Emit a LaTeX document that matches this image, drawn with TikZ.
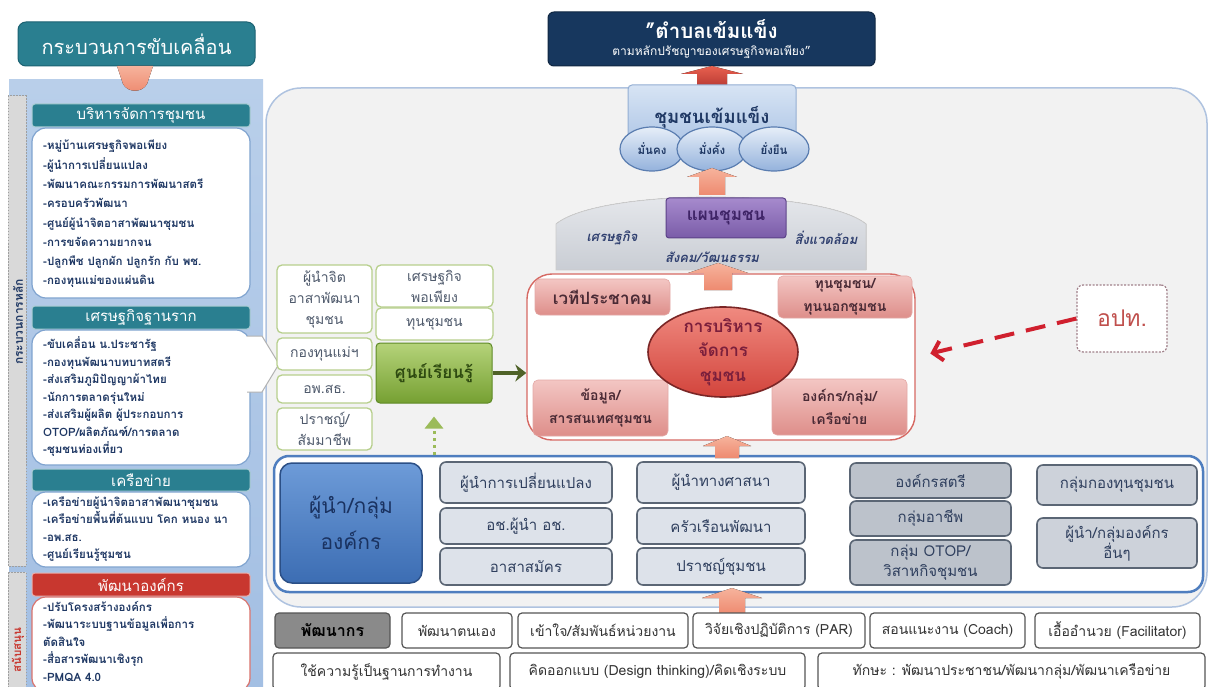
\documentclass[tikz,border=0pt]{standalone}
\usepackage{fontspec}
\setmainfont{Loma}[Script=Thai]
\usetikzlibrary{arrows.meta,shapes.geometric,calc}
\definecolor{tealc}{HTML}{2A7F90}
\definecolor{tealdk}{HTML}{1C6272}
\definecolor{panelt}{HTML}{B9CFEA}
\definecolor{panelb}{HTML}{A3BFE3}
\definecolor{lstb}{HTML}{7FA3CF}
\definecolor{redh}{HTML}{C8372F}
\definecolor{txtb}{HTML}{1F3864}
\definecolor{kgreen}{HTML}{B7CF8C}
\definecolor{ktext}{HTML}{4F5A6C}
\definecolor{lcga}{HTML}{B5D37A}
\definecolor{lcgb}{HTML}{76A032}
\definecolor{lcgc}{HTML}{5E8A26}
\definecolor{lctxt}{HTML}{2E4A10}
\definecolor{pka}{HTML}{F3C6C3}
\definecolor{pkb}{HTML}{DE8E8A}
\definecolor{pkc}{HTML}{E3A9A6}
\definecolor{pktxt}{HTML}{4A2A35}
\definecolor{ela}{HTML}{F08A80}
\definecolor{elb}{HTML}{D2443C}
\definecolor{elc}{HTML}{7A2626}
\definecolor{eltxt}{HTML}{7B1F3C}
\definecolor{gba}{HTML}{DDE2EA}
\definecolor{gbb}{HTML}{BCC2CB}
\definecolor{gbc}{HTML}{CDD2DA}
\definecolor{gbline}{HTML}{5B6675}
\definecolor{gbt}{HTML}{2F3F5E}
\definecolor{sbline}{HTML}{555555}
\definecolor{sbt}{HTML}{333333}
\definecolor{sdark}{HTML}{8A8A8A}
\definecolor{goalc}{HTML}{17375E}
\definecolor{sta}{HTML}{D7E4F4}
\definecolor{stb}{HTML}{A9C2E4}
\definecolor{stc}{HTML}{93AED3}
\definecolor{ova}{HTML}{E6EEF8}
\definecolor{ovb}{HTML}{94B2DC}
\definecolor{ovc}{HTML}{5A7DB0}
\definecolor{domea}{HTML}{E8EAEE}
\definecolor{domeb}{HTML}{C9CDD4}
\definecolor{pla}{HTML}{A68ACD}
\definecolor{plb}{HTML}{7A5CA8}
\definecolor{plc}{HTML}{5C4288}
\definecolor{pltxt}{HTML}{3E2366}
\definecolor{arra}{HTML}{E8604F}
\definecolor{arrb}{HTML}{B83A33}
\definecolor{arrc}{HTML}{F6B39C}
\definecolor{arrd}{HTML}{EE8A70}
\definecolor{panelg}{HTML}{F2F2F2}
\definecolor{panelbd}{HTML}{AFC3E0}
\definecolor{grpbd}{HTML}{4F7EBF}
\definecolor{lda}{HTML}{6D9BD8}
\definecolor{ldb}{HTML}{3C6DB3}
\definecolor{ldc}{HTML}{2B4F86}
\definecolor{ldtxt}{HTML}{1A3260}
\definecolor{optline}{HTML}{A0808A}
\definecolor{opttxt}{HTML}{C0504D}
\definecolor{rarr}{HTML}{D0202E}
\definecolor{garr}{HTML}{4F6228}
\definecolor{darr}{HTML}{9BBB59}
\definecolor{dometxt}{HTML}{2F3F6F}
\newcommand\fz[2]{\fontsize{#1}{#2}\selectfont}
\newcommand\mkbox[7]{\node[#2,minimum width={(#5)-(#3)},minimum height={(#6)-(#4)}] (#1) at ({((#3)+(#5))/2},{((#4)+(#6))/2}) {#7};}
\newcommand\blockup[7]{\fill[#7] ({#1-#4},#3) -- ({#1-#4},{#2+#6}) -- ({#1-#5},{#2+#6}) -- (#1,#2) -- ({#1+#5},{#2+#6}) -- ({#1+#4},{#2+#6}) -- ({#1+#4},#3) -- cycle;}
\tikzset{
 ttl/.style={rounded corners=8pt, fill=tealc, draw=tealdk, line width=1pt, text=white, font=\fz{20}{22}, inner sep=0pt},
 hdr/.style={rounded corners=3pt, fill=tealc, draw=white!60!tealc, line width=1pt, text=white, font=\fz{15}{16}, inner sep=0pt},
 hdrr/.style={hdr, fill=redh, draw=white!60!redh},
 lst/.style={rounded corners=14pt, fill=white, draw=lstb, line width=1.2pt, inner sep=0pt},
 lstr/.style={lst, draw=redh!70},
 lsttxt/.style={anchor=west, text=txtb, font=\bfseries\fz{11.5}{17.5}, align=left, inner sep=0pt},
 kb/.style={rounded corners=5pt, fill=white, draw=kgreen, line width=1.3pt, text=ktext, font=\fz{14}{21}, align=center, inner sep=0pt},
 lcb/.style={rounded corners=4pt, top color=lcga, bottom color=lcgb, draw=lcgc, line width=1pt, text=lctxt, font=\bfseries\fz{17}{18}, inner sep=0pt},
 pk/.style={rounded corners=5pt, top color=pka, bottom color=pkb, draw=pkc, line width=0.6pt, text=pktxt, font=\bfseries\fz{14}{23}, align=center, inner sep=0pt},
 pkbig/.style={pk, font=\bfseries\fz{17}{18}},
 gbox/.style={rounded corners=6pt, fill=gba, draw=gbline, line width=1.6pt, text=gbt, font=\fz{15}{20}, align=center, inner sep=0pt},
 gboxdark/.style={gbox, fill=gbb},
 gboxmid/.style={gbox, fill=gbc},
 sbox/.style={rounded corners=4pt, fill=white, draw=sbline, line width=1.2pt, text=sbt, font=\fz{14}{15}, inner sep=0pt},
 sboxdark/.style={sbox, fill=sdark, text=black, font=\bfseries\fz{16}{17}},
 oval/.style={ellipse, top color=ova, bottom color=ovb, draw=ovc, line width=1.2pt, text=txtb, font=\bfseries\fz{11.5}{12}, inner sep=-4pt},
 goalst/.style={rounded corners=6pt, fill=goalc, draw=goalc!70!black, line width=1pt, text=white, align=center, inner sep=0pt},
 strongst/.style={rounded corners=4pt, top color=sta, bottom color=stb, draw=stc, line width=1pt, text=txtb, font=\bfseries\fz{18.5}{20}, inner sep=0pt},
 planst/.style={rounded corners=3pt, top color=pla, bottom color=plb, draw=plc, line width=1pt, text=pltxt, font=\bfseries\fz{17}{18}, inner sep=0pt},
 domelbl/.style={text=dometxt, font=\bfseries\itshape\fz{13}{14}, inner sep=1pt},
 redbox/.style={rounded corners=25pt, fill=white, draw=redh!75!white, line width=1.4pt, inner sep=0pt},
 mgmtel/.style={ellipse, top color=ela, bottom color=elb, draw=elc, line width=1.6pt, text=eltxt, font=\bfseries\fz{17}{24.5}, align=center, inner sep=-12pt},
 grpbox/.style={rounded corners=15pt, fill=white, draw=grpbd, line width=2.5pt, inner sep=0pt},
 leaderst/.style={rounded corners=12pt, top color=lda, bottom color=ldb, draw=ldc, line width=1.5pt, text=ldtxt, font=\fz{21}{36}, align=center, inner sep=0pt},
 optbox/.style={rounded corners=6pt, fill=white, draw=optline, dash pattern=on 2pt off 1.5pt, line width=1.2pt, text=opttxt, font=\fz{23}{24}, inner sep=0pt},
 sidelbl/.style={rotate=90, font=\bfseries\fz{12}{13}, inner sep=0pt},
 arrdark/.style={top color=arra, bottom color=arrb},
 arrlight/.style={top color=arrc, bottom color=arrd}
}
\begin{document}
\begin{tikzpicture}[x=1pt,y=-1pt]
\useasboundingbox (0,0) rectangle (1216,687);
\fill[white] (0,0) rectangle (1216,687);
% ---------- left column ----------
\fill[top color=panelt, bottom color=panelb] (9,80) rectangle (263,687);
\filldraw[fill=gray!30, draw=gray!75, dash pattern=on 1.5pt off 1.5pt, line width=1pt] (8,96) rectangle (26,566);
\filldraw[fill=gray!30, draw=gray!75, dash pattern=on 1.5pt off 1.5pt, line width=1pt] (8,572) rectangle (26,687);
\node[sidelbl, text=txtb] (side1) at (18,322) {กระบวนการหลัก};
\node[sidelbl, text=redh, font=\bfseries\fz{11.5}{12}] (side2) at (18,650) {สนับสนุน};
\mkbox{title}{ttl}{18}{22}{255}{66}{กระบวนการขับเคลื่อน}
\fill[arrlight] (117,66) -- (153,66) -- (147,84) .. controls (142,93) and (128,93) .. (123,84) -- cycle;
\mkbox{h1}{hdr}{32}{104}{250}{127}{บริหารจัดการชุมชน}
\mkbox{l1}{lst}{32}{128}{250}{298}{}
\node[lsttxt, font=\bfseries\fz{11.5}{19.3}] (l1t) at (43,214) {-หมู่บ้านเศรษฐกิจพอเพียง\\-ผู้นำการเปลี่ยนแปลง\\-พัฒนาคณะกรรมการพัฒนาสตรี\\-ครอบครัวพัฒนา\\-ศูนย์ผู้นำจิตอาสาพัฒนาชุมชน\\-การขจัดความยากจน\\-ปลูกพืช ปลูกผัก ปลูกรัก กับ พช.\\-กองทุนแม่ของแผ่นดิน};
\mkbox{h2}{hdr}{32}{306}{250}{329}{เศรษฐกิจฐานราก}
\mkbox{l2}{lst}{32}{330}{250}{465}{}
\node[lsttxt] (l2t) at (43,397) {-ขับเคลื่อน น.ประชารัฐ\\-กองทุนพัฒนาบทบาทสตรี\\-ส่งเสริมภูมิปัญญาผ้าไทย\\-นักการตลาดรุ่นใหม่\\-ส่งเสริมผู้ผลิต ผู้ประกอบการ\\OTOP/ผลิตภัณฑ์/การตลาด\\-ชุมชนท่องเที่ยว};
\mkbox{h3}{hdr}{32}{469}{250}{491}{เครือข่าย}
\mkbox{l3}{lst}{32}{492}{250}{567}{}
\node[lsttxt] (l3t) at (43,529) {-เครือข่ายผู้นำจิตอาสาพัฒนาชุมชน\\-เครือข่ายพื้นที่ต้นแบบ โคก หนอง นา\\-อพ.สธ.\\-ศูนย์เรียนรู้ชุมชน};
\mkbox{h4}{hdrr}{32}{573}{250}{596}{พัฒนาองค์กร}
\mkbox{l4}{lstr}{32}{597}{250}{692}{}
\node[lsttxt] (l4t) at (43,641) {-ปรับโครงสร้างองค์กร\\-พัฒนาระบบฐานข้อมูลเพื่อการ\\ตัดสินใจ\\-สื่อสารพัฒนาเชิงรุก\\-PMQA 4.0};
% ---------- main panel ----------
\filldraw[fill=panelg, draw=panelbd, line width=1.5pt, rounded corners=35pt] (266,88) rectangle (1207,607);
\filldraw[fill=white, draw=gray!60, line width=1pt] (247,336) -- (262,336) -- (279,364) -- (262,392) -- (247,392);
% goal
\mkbox{goal}{goalst}{548}{12}{875}{66}{{\bfseries\fz{20.5}{24}"ตำบลเข้มแข็ง}\\[5pt]{\fz{12}{14}ตามหลักปรัชญาของเศรษฐกิจพอเพียง"}}
\blockup{712}{66}{87}{15}{31}{8}{arrdark}
\mkbox{strong}{strongst}{628}{85}{796}{150}{ชุมชนเข้มแข็ง}
\node[oval, minimum width=64pt, minimum height=44pt] (o1) at (652,149) {มั่นคง};
\node[oval, minimum width=70pt, minimum height=44pt] (o2) at (712,149) {มั่งคั่ง};
\node[oval, minimum width=70pt, minimum height=44pt] (o3) at (774,149) {ยั่งยืน};
\blockup{712}{168}{195}{13}{25}{9}{arrlight}
% dome
\filldraw[top color=domea, bottom color=domeb, draw=gray!40, line width=0.8pt] (556,270) -- (556,224) .. controls (600,188) and (822,188) .. (866,224) -- (866,270) -- cycle;
\mkbox{plan}{planst}{666}{198}{786}{238}{แผนชุมชน}
\node[domelbl] (econ) at (612,238) {เศรษฐกิจ};
\node[domelbl] (envi) at (826,238) {สิ่งแวดล้อม};
\node[domelbl] (soc) at (712,257) {สังคม/วัฒนธรรม};
% management box
\mkbox{mgmt}{redbox}{527}{274}{915}{440}{}
\blockup{718}{263}{290}{14}{30}{10}{arrlight}
\mkbox{forum}{pkbig}{535}{279}{670}{315}{เวทีประชาคม}
\mkbox{capital}{pk}{778}{276}{912}{318}{ทุนชุมชน/\\ทุนนอกชุมชน}
\mkbox{data}{pk}{533}{380}{668}{436}{ข้อมูล/\\สารสนเทศชุมชน}
\mkbox{orgs}{pk}{772}{379}{907}{435}{องค์กร/กลุ่ม/\\เครือข่าย}
\node[mgmtel, minimum width=150pt, minimum height=90pt] (mg) at (723,352) {การบริหาร\\จัดการ\\ชุมชน};
% knowledge centre
\mkbox{k1}{kb}{277}{265}{372}{333}{ผู้นำจิต\\อาสาพัฒนา\\ชุมชน}
\mkbox{k2}{kb}{376}{265}{493}{307}{เศรษฐกิจ\\พอเพียง}
\mkbox{k3}{kb}{376}{308}{493}{340}{ทุนชุมชน}
\mkbox{k4}{kb}{277}{338}{372}{370}{กองทุนแม่ฯ}
\mkbox{k5}{kb}{277}{375}{372}{403}{อพ.สธ.}
\mkbox{k6}{kb}{277}{408}{372}{450}{ปราชญ์/\\สัมมาชีพ}
\mkbox{lc}{lcb}{376}{343}{492}{403}{ศูนย์เรียนรู้}
\draw[garr, line width=4pt, -{Stealth[length=11pt,width=17pt]}] (lc.east) -- (lc.east -| mgmt.west);
% local government
\mkbox{lao}{optbox}{1077}{285}{1167}{352}{อปท.}
\draw[rarr, line width=4pt, dash pattern=on 20pt off 12pt, shorten >=15pt, -{Straight Barb[length=9pt,width=20pt,line width=4pt]}] (lao.west) -- (mgmt.east);
% leaders group
\mkbox{grp}{grpbox}{274}{456}{1203}{592}{}
\blockup{727}{436}{458}{12}{24}{10}{arrlight}
\draw[darr, line width=3pt, dash pattern=on 3pt off 4pt, -{Triangle[length=12pt,width=18pt]}] (grp.north -| lc.south) -- ($(lc.south)+(0,13)$);
\mkbox{lead}{leaderst}{280}{463}{422}{583}{ผู้นำ/กลุ่ม\\องค์กร}
\mkbox{a1}{gbox}{440}{462}{612}{503}{ผู้นำการเปลี่ยนแปลง}
\mkbox{a2}{gbox}{440}{508}{612}{544}{อช.ผู้นำ อช.}
\mkbox{a3}{gbox}{440}{548}{612}{585}{อาสาสมัคร}
\mkbox{b1}{gbox}{637}{462}{805}{503}{ผู้นำทางศาสนา}
\mkbox{b2}{gbox}{637}{508}{805}{544}{ครัวเรือนพัฒนา}
\mkbox{b3}{gbox}{637}{548}{805}{585}{ปราชญ์ชุมชน}
\mkbox{c1}{gboxdark}{850}{463}{1011}{498}{องค์กรสตรี}
\mkbox{c2}{gboxdark}{850}{501}{1011}{536}{กลุ่มอาชีพ}
\mkbox{c3}{gboxdark}{850}{540}{1011}{585}{กลุ่ม OTOP/\\วิสาหกิจชุมชน}
\mkbox{d1}{gboxmid}{1037}{465}{1197}{505}{กลุ่มกองทุนชุมชน}
\mkbox{d2}{gboxmid}{1037}{518}{1197}{568}{ผู้นำ/กลุ่มองค์กร\\อื่นๆ}
\blockup{732}{588}{614}{13}{30}{10}{arrlight}
% bottom strip
\mkbox{s1}{sboxdark}{275}{613}{390}{648}{พัฒนากร}
\mkbox{s2}{sbox}{402}{613}{512}{648}{พัฒนาตนเอง}
\mkbox{s3}{sbox}{518}{613}{688}{648}{เข้าใจ/สัมพันธ์หน่วยงาน}
\mkbox{s4}{sbox}{693}{613}{865}{648}{วิจัยเชิงปฏิบัติการ (PAR)}
\mkbox{s5}{sbox}{870}{613}{1025}{648}{สอนแนะงาน (Coach)}
\mkbox{s6}{sbox}{1035}{613}{1200}{648}{เอื้ออำนวย (Facilitator)}
\mkbox{t1}{sbox}{273}{653}{500}{690}{ใช้ความรู้เป็นฐานการทำงาน}
\mkbox{t2}{sbox}{510}{653}{805}{690}{คิดออกแบบ (Design thinking)/คิดเชิงระบบ}
\mkbox{t3}{sbox}{818}{653}{1205}{690}{ทักษะ : พัฒนาประชาชน/พัฒนากลุ่ม/พัฒนาเครือข่าย}
\end{tikzpicture}
\end{document}
